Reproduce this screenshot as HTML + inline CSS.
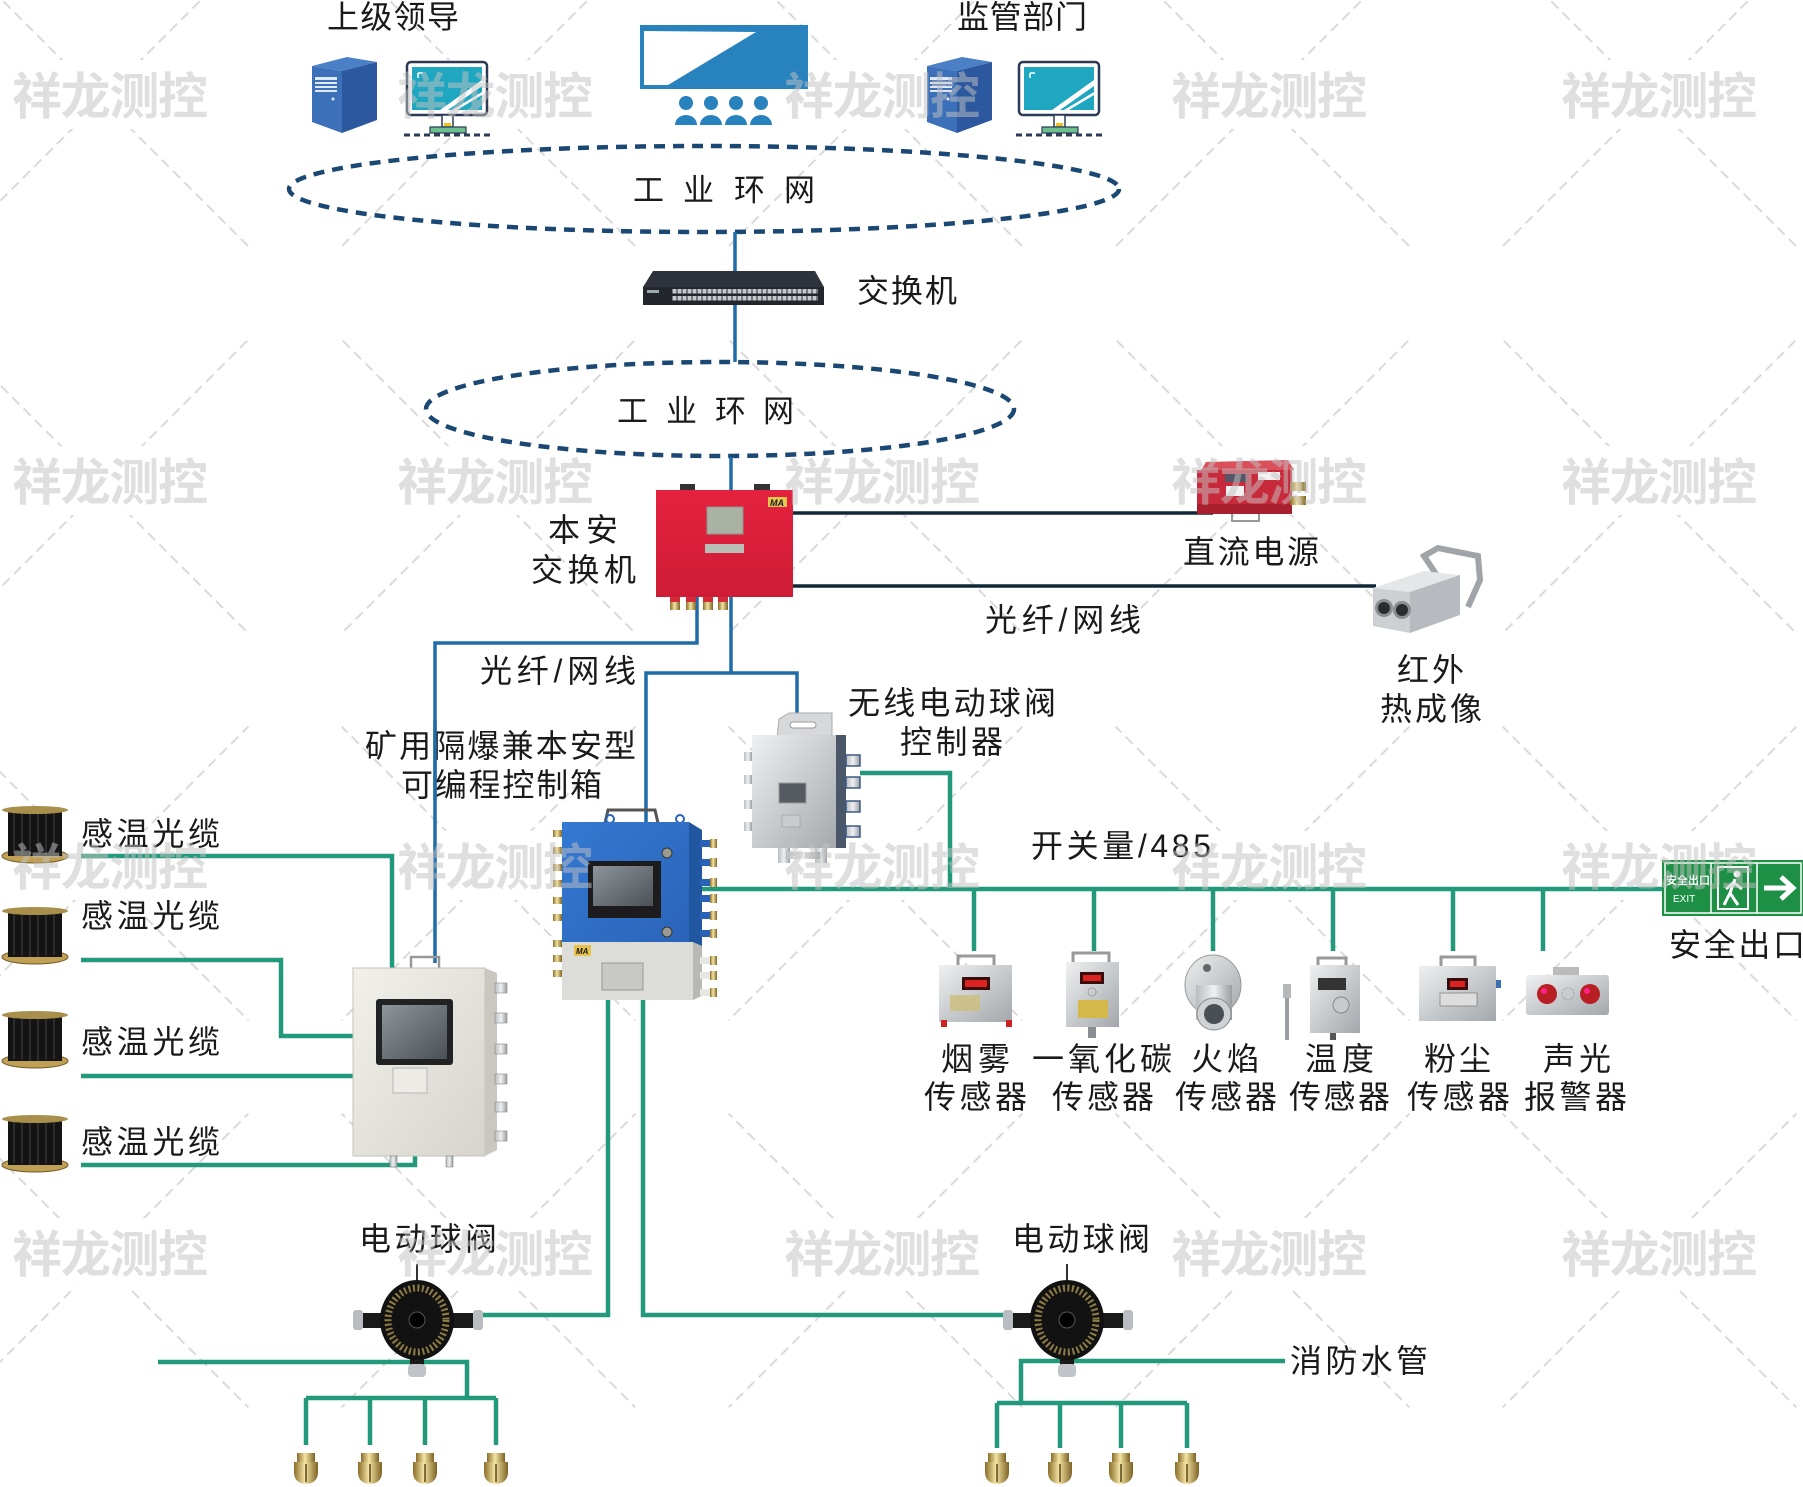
<!DOCTYPE html>
<html><head><meta charset="utf-8">
<style>
html,body{margin:0;padding:0;background:#fff;}
svg{display:block;}
text{font-family:"Liberation Sans","Noto Sans CJK SC",sans-serif;fill:#1a1a1a;}
.lb{font-size:32px;}
.wm{font-size:50px;fill:#c2c2c2;opacity:.72;font-weight:bold;}
</style></head><body>
<svg width="1803" height="1487" viewBox="0 0 1803 1487" xmlns="http://www.w3.org/2000/svg">
<defs>
<linearGradient id="steel" x1="0" y1="0" x2="1" y2="1"><stop offset="0" stop-color="#eef0f1"/><stop offset="1" stop-color="#a3a7ab"/></linearGradient>
<linearGradient id="steelH" x1="0" y1="0" x2="1" y2="0"><stop offset="0" stop-color="#b9bdc0"/><stop offset=".5" stop-color="#eef0f1"/><stop offset="1" stop-color="#9a9ea2"/></linearGradient>
<linearGradient id="brass" x1="0" y1="0" x2="1" y2="0"><stop offset="0" stop-color="#8a6d28"/><stop offset=".45" stop-color="#f4e4a4"/><stop offset="1" stop-color="#7d6324"/></linearGradient>
<linearGradient id="redg" x1="0" y1="0" x2="0" y2="1"><stop offset="0" stop-color="#e4223f"/><stop offset="1" stop-color="#cf1c36"/></linearGradient>
<linearGradient id="blueg" x1="0" y1="0" x2="1" y2="1"><stop offset="0" stop-color="#3479d2"/><stop offset="1" stop-color="#2a63b8"/></linearGradient>
<linearGradient id="scr" x1="0" y1="0" x2="1" y2="1"><stop offset="0" stop-color="#8d949a"/><stop offset="1" stop-color="#4b5157"/></linearGradient>
<linearGradient id="greyb" x1="0" y1="0" x2="1" y2="1"><stop offset="0" stop-color="#f1f0ea"/><stop offset="1" stop-color="#d6d4cc"/></linearGradient>
<pattern id="ports" width="5" height="14" patternUnits="userSpaceOnUse" x="672" y="289"><rect x="0.5" y="0" width="4" height="4.5" fill="#c5cacd"/><rect x="0.5" y="7" width="4" height="4.5" fill="#c5cacd"/></pattern>
<mask id="wmMask">
<rect width="1803" height="1487" fill="#fff"/>
<g fill="#000">
<rect x="0" y="60" width="218" height="69"/><rect x="385" y="60" width="218" height="69"/><rect x="772" y="60" width="218" height="69"/><rect x="1159" y="60" width="218" height="69"/><rect x="1549" y="60" width="218" height="69"/>
<rect x="0" y="446" width="218" height="69"/><rect x="385" y="446" width="218" height="69"/><rect x="772" y="446" width="218" height="69"/><rect x="1159" y="446" width="218" height="69"/><rect x="1549" y="446" width="218" height="69"/>
<rect x="0" y="831" width="218" height="69"/><rect x="385" y="831" width="218" height="69"/><rect x="772" y="831" width="218" height="69"/><rect x="1159" y="831" width="218" height="69"/><rect x="1549" y="831" width="218" height="69"/>
<rect x="0" y="1218" width="218" height="69"/><rect x="385" y="1218" width="218" height="69"/><rect x="772" y="1218" width="218" height="69"/><rect x="1159" y="1218" width="218" height="69"/><rect x="1549" y="1218" width="218" height="69"/>
<circle cx="295" cy="-94" r="66"/><circle cx="682" cy="-94" r="66"/><circle cx="1069" cy="-94" r="66"/><circle cx="1456" cy="-94" r="66"/><circle cx="1843" cy="-94" r="66"/>
<circle cx="295" cy="293" r="66"/><circle cx="682" cy="293" r="66"/><circle cx="1069" cy="293" r="66"/><circle cx="1456" cy="293" r="66"/><circle cx="1843" cy="293" r="66"/>
<circle cx="295" cy="680" r="66"/><circle cx="682" cy="680" r="66"/><circle cx="1069" cy="680" r="66"/><circle cx="1456" cy="680" r="66"/><circle cx="1843" cy="680" r="66"/>
<circle cx="295" cy="1067" r="66"/><circle cx="682" cy="1067" r="66"/><circle cx="1069" cy="1067" r="66"/><circle cx="1456" cy="1067" r="66"/><circle cx="1843" cy="1067" r="66"/>
<circle cx="295" cy="1454" r="66"/><circle cx="682" cy="1454" r="66"/><circle cx="1069" cy="1454" r="66"/><circle cx="1456" cy="1454" r="66"/><circle cx="1843" cy="1454" r="66"/>
<circle cx="-92" cy="293" r="66"/><circle cx="-92" cy="680" r="66"/><circle cx="-92" cy="1067" r="66"/><circle cx="-92" cy="1454" r="66"/>
</g>
</mask>
</defs>
<rect width="1803" height="1487" fill="#fff"/>

<!-- background diagonal lattice -->
<g mask="url(#wmMask)" stroke="#dadada" stroke-width="2" stroke-dasharray="10 6" fill="none">
<path d="M-1169,-10 L341,1500 M-782,-10 L728,1500 M-395,-10 L1115,1500 M-8,-10 L1502,1500 M379,-10 L1889,1500 M766,-10 L2276,1500 M1153,-10 L2663,1500 M1540,-10 L3050,1500"/>
<path d="M211,-10 L-1299,1500 M598,-10 L-912,1500 M985,-10 L-525,1500 M1372,-10 L-138,1500 M1759,-10 L249,1500 M2146,-10 L636,1500 M2533,-10 L1023,1500 M2920,-10 L1410,1500"/>
</g>

<!-- ===== top icons ===== -->
<text class="lb" x="327" y="28" textLength="132" lengthAdjust="spacing">上级领导</text>
<text class="lb" x="957" y="28" textLength="130" lengthAdjust="spacing">监管部门</text>

<g id="srv1">
<polygon points="312,66 347,57 377,62 342,71" fill="#4c80c6"/>
<polygon points="312,66 342,71 342,133 312,122" fill="#3c70b9"/>
<polygon points="342,71 377,62 377,120 342,133" fill="#2b589f"/>
<rect x="315" y="77" width="22" height="3" fill="#dfe8f4"/><rect x="315" y="82" width="22" height="2" fill="#dfe8f4"/><rect x="315" y="86" width="22" height="2" fill="#dfe8f4"/><rect x="315" y="90" width="22" height="2" fill="#dfe8f4"/>
<circle cx="333" cy="99" r="1.5" fill="#dfe8f4"/>
</g>
<g id="mon1">
<rect x="407" y="62" width="80" height="53" rx="4" fill="#fff" stroke="#2b3a55" stroke-width="2.5"/>
<rect x="412" y="67" width="70" height="43" fill="#1fa6c1"/>
<path d="M440,110 L482,80 L482,86 L448,110Z M452,110 L482,92 L482,95 L457,110Z" fill="#fff"/>
<path d="M418,73 h5 M418,73 v5" stroke="#fff" stroke-width="1.5"/>
<rect x="442" y="115" width="11" height="12" fill="#fff" stroke="#2b3a55" stroke-width="1.5"/>
<rect x="444" y="123" width="7" height="3" fill="#f2c21b"/>
<rect x="430" y="127" width="36" height="6" fill="#6cc08d" stroke="#2b3a55" stroke-width="1.2"/>
<path d="M404,135 H492" stroke="#2b3a55" stroke-width="3" stroke-dasharray="6 4"/>
</g>
<use href="#srv1" x="615"/>
<use href="#mon1" x="612"/>

<!-- big screen -->
<rect x="640" y="25" width="168" height="64" fill="#2882be"/>
<polygon points="644,31 756,32 668,85 644,85" fill="#fff"/>
<g fill="#2882be">
<circle cx="686" cy="103" r="7"/><circle cx="711" cy="103" r="7"/><circle cx="736" cy="103" r="7"/><circle cx="761" cy="103" r="7"/>
<path d="M675,125 a11,10 0 0 1 22,0Z M700,125 a11,10 0 0 1 22,0Z M725,125 a11,10 0 0 1 22,0Z M750,125 a11,10 0 0 1 22,0Z"/>
</g>

<!-- ellipse 1 -->
<ellipse cx="704" cy="189" rx="415" ry="43" fill="none" stroke="#1b4872" stroke-width="4.5" stroke-dasharray="11 8"/>
<g style="font-size:31px"><text x="633" y="201">工</text><text x="683" y="201">业</text><text x="734" y="201">环</text><text x="784" y="201">网</text></g>

<!-- switch -->
<path d="M735,232 V271 M735,305 V362" stroke="#1f6ca8" stroke-width="3.5"/>
<polygon points="653,271 815,271 824,287 643,287" fill="#2e333b"/>
<rect x="643" y="287" width="181" height="18" fill="#23272d"/>
<rect x="672" y="289" width="146" height="12" fill="url(#ports)"/>
<rect x="647" y="290" width="12" height="3" fill="#9aa"/>
<text class="lb" x="857" y="302" textLength="100" lengthAdjust="spacing">交换机</text>

<!-- ellipse 2 -->
<ellipse cx="720" cy="409" rx="294" ry="47" fill="none" stroke="#1b4872" stroke-width="4.5" stroke-dasharray="11 8"/>
<g style="font-size:31px"><text x="617" y="422">工</text><text x="666" y="422">业</text><text x="715" y="422">环</text><text x="763" y="422">网</text></g>

<!-- blue connectors -->
<g stroke="#1f6ca8" stroke-width="3.5" fill="none">
<path d="M731,457 V490"/>
<polyline points="697,597 697,643 435,643 435,963"/>
<path d="M731,597 V673 M646,822 V673 H797 V716"/>
</g>
<!-- dark lines -->
<path d="M793,513 H1213 M793,586 H1376" stroke="#0f2837" stroke-width="3.5"/>

<!-- red intrinsically safe switch -->
<rect x="680" y="484" width="15" height="7" fill="#333"/><rect x="754" y="484" width="16" height="7" fill="#333"/>
<rect x="656" y="490" width="137" height="107" fill="url(#redg)"/>
<rect x="707" y="507" width="36" height="27" fill="#aab2a4" stroke="#8d948a"/>
<rect x="705" y="544" width="39" height="9" fill="#b7bfb6"/>
<rect x="768" y="497" width="19" height="10" fill="#e7c650"/>
<text x="770" y="506" style="font-size:9px;font-weight:bold;font-style:italic">MA</text>
<g fill="url(#brass)"><rect x="670" y="597" width="10" height="13"/><rect x="686" y="597" width="10" height="13"/><rect x="703" y="597" width="10" height="13"/><rect x="718" y="597" width="10" height="13"/></g>
<g fill="#d22b3a"><rect x="670" y="597" width="10" height="5"/><rect x="686" y="597" width="10" height="5"/><rect x="703" y="597" width="10" height="5"/><rect x="718" y="597" width="10" height="5"/></g>
<text class="lb" x="548" y="541" textLength="70" lengthAdjust="spacing">本安</text>
<text class="lb" x="531" y="581" textLength="105" lengthAdjust="spacing">交换机</text>

<!-- DC power -->
<polygon points="1206,462 1288,460 1294,470 1200,472" fill="#d9505b"/>
<rect x="1197" y="470" width="95" height="44" fill="#c92a3b"/>
<rect x="1197" y="504" width="95" height="10" fill="#a81f2e"/>
<rect x="1225" y="474" width="22" height="8" fill="#556"/><rect x="1258" y="472" width="22" height="8" fill="#f2f2f2"/><rect x="1226" y="486" width="18" height="10" fill="#f2f2f2"/>
<g fill="url(#brass)"><rect x="1290" y="482" width="16" height="9"/><rect x="1290" y="496" width="16" height="9"/></g>
<path d="M1232,514 v7 h27 v-7" stroke="#999" stroke-width="2" fill="none"/>
<text class="lb" x="1183" y="563" textLength="136" lengthAdjust="spacing">直流电源</text>

<!-- infrared camera -->
<path d="M1438,577 L1424,556 L1438,548 L1478,556 L1480,580 L1468,607" stroke="#a0a4a8" stroke-width="6" fill="none"/>
<polygon points="1373,588 1410,592 1460,575 1424,571" fill="#e4e6e8"/>
<polygon points="1410,592 1460,575 1460,615 1410,633" fill="#b7bbbf"/>
<polygon points="1373,588 1410,592 1410,633 1373,626" fill="#cdd0d3"/>
<circle cx="1384" cy="608" r="9" fill="#8a8e92"/><circle cx="1384" cy="608" r="6" fill="#2a2d30"/>
<circle cx="1402" cy="610" r="9" fill="#8a8e92"/><circle cx="1402" cy="610" r="6" fill="#2a2d30"/>
<text class="lb" x="985" y="631" textLength="156" lengthAdjust="spacing">光纤/网线</text>
<text class="lb" x="1397" y="681" textLength="67" lengthAdjust="spacing">红外</text>
<text class="lb" x="1380" y="720" textLength="102" lengthAdjust="spacing">热成像</text>

<text class="lb" x="480" y="682" textLength="156" lengthAdjust="spacing">光纤/网线</text>
<text class="lb" x="365" y="757" textLength="271" lengthAdjust="spacing">矿用隔爆兼本安型</text>
<text class="lb" x="401" y="796" textLength="201" lengthAdjust="spacing">可编程控制箱</text>
<path d="M435,720 V800" stroke="#1f6ca8" stroke-width="3.5"/>

<!-- wireless controller -->
<polygon points="777,738 779,719 789,713 832,713 832,738" fill="#d6d8da" stroke="#aaa"/>
<rect x="790" y="722" width="26" height="6" rx="3" fill="#fff" stroke="#999"/>
<rect x="752" y="735" width="88" height="113" fill="url(#steel)"/>
<rect x="836" y="735" width="10" height="113" fill="#4a5769"/>
<g fill="url(#steelH)"><rect x="744" y="752" width="8" height="9"/><rect x="744" y="775" width="8" height="9"/><rect x="744" y="800" width="8" height="9"/><rect x="744" y="822" width="8" height="9"/></g>
<g fill="url(#steelH)" stroke="#3c5a86" stroke-width="1.5"><rect x="846" y="755" width="14" height="11"/><rect x="846" y="777" width="14" height="11"/><rect x="846" y="801" width="14" height="11"/><rect x="846" y="826" width="14" height="11"/></g>
<rect x="779" y="783" width="27" height="20" fill="#555b61" stroke="#999"/>
<rect x="782" y="815" width="18" height="12" fill="#c9cbcd" stroke="#999" stroke-width=".6"/>
<rect x="778" y="848" width="12" height="15" fill="url(#steelH)"/><rect x="815" y="848" width="12" height="15" fill="url(#steelH)"/><rect x="786" y="852" width="34" height="7" fill="url(#steelH)"/>
<text class="lb" x="848" y="714" textLength="208" lengthAdjust="spacing">无线电动球阀</text>
<text class="lb" x="900" y="753" textLength="103" lengthAdjust="spacing">控制器</text>

<!-- green signal lines -->
<g stroke="#22997a" stroke-width="4.5" fill="none">
<path d="M860,773 H950 V889"/>
<path d="M700,889 H1664"/>
<path d="M974,889 V951 M1094,889 V951 M1213,889 V951 M1333,889 V951 M1453,889 V951 M1543,889 V951"/>
<polyline points="81,856 392,856 392,968"/>
<polyline points="81,960 281,960 281,1036 353,1036"/>
<path d="M81,1076 H353"/>
<polyline points="81,1165 415,1165 415,1147"/>
<polyline points="608,1000 608,1315 480,1315"/>
<polyline points="643,1000 643,1315 1006,1315"/>
<path d="M158,1362 H467 V1398 M306,1398 H496 M306,1398 V1445 M370,1398 V1445 M425,1398 V1445 M496,1398 V1445"/>
<path d="M1285,1361 H1021 V1403 M997,1403 H1187 M997,1403 V1448 M1060,1403 V1448 M1121,1403 V1448 M1187,1403 V1448"/>
</g>
<text class="lb" x="1031" y="857" textLength="180" lengthAdjust="spacing">开关量/485</text>

<!-- blue PLC box -->
<path d="M605,823 L608,810 H655 L658,823" stroke="#555" stroke-width="3" fill="none"/>
<circle cx="610" cy="819" r="4" fill="none" stroke="#2a63b8" stroke-width="2"/><circle cx="680" cy="819" r="4" fill="none" stroke="#2a63b8" stroke-width="2"/>
<rect x="562" y="822" width="127" height="131" fill="url(#blueg)"/>
<polygon points="689,822 702,830 702,948 689,953" fill="#2156a0"/>
<rect x="562" y="942" width="131" height="58" fill="#dcdcd8"/>
<polygon points="693,942 702,946 702,996 693,1000" fill="#b9b9b4"/>
<rect x="588" y="861" width="73" height="57" fill="#1c1c1e"/>
<rect x="593" y="866" width="60" height="40" fill="url(#scr)"/>
<circle cx="667" cy="853" r="5" fill="#9a9a90" stroke="#333"/><circle cx="667" cy="932" r="5" fill="#9a9a90" stroke="#333"/>
<rect x="574" y="945" width="17" height="11" fill="#e6c24a"/><text x="576" y="954" style="font-size:8px;font-weight:bold;font-style:italic">MA</text>
<rect x="602" y="963" width="41" height="27" fill="#c8c8c4" stroke="#999"/>
<g fill="url(#brass)"><rect x="553" y="830" width="9" height="7"/><rect x="553" y="847" width="9" height="7"/><rect x="553" y="864" width="9" height="7"/><rect x="553" y="880" width="9" height="7"/><rect x="553" y="897" width="9" height="7"/><rect x="553" y="914" width="9" height="7"/><rect x="553" y="940" width="9" height="7"/><rect x="553" y="955" width="9" height="7"/><rect x="553" y="970" width="9" height="7"/>
<rect x="710" y="839" width="7" height="9"/><rect x="710" y="858" width="7" height="9"/><rect x="710" y="878" width="7" height="9"/><rect x="710" y="894" width="7" height="9"/><rect x="710" y="911" width="7" height="9"/><rect x="710" y="929" width="7" height="9"/><rect x="710" y="956" width="7" height="9"/><rect x="710" y="971" width="7" height="9"/><rect x="710" y="988" width="7" height="9"/></g>
<g fill="#2a62b8"><rect x="700" y="840" width="10" height="7"/><rect x="700" y="859" width="10" height="7"/><rect x="700" y="879" width="10" height="7"/><rect x="700" y="895" width="10" height="7"/><rect x="700" y="912" width="10" height="7"/><rect x="700" y="930" width="10" height="7"/></g>
<g fill="#e6e6e2"><rect x="700" y="957" width="10" height="7"/><rect x="700" y="972" width="10" height="7"/><rect x="700" y="989" width="10" height="7"/></g>

<!-- grey PLC box -->
<path d="M411,968 V957 H439 V968" stroke="#999" stroke-width="2.5" fill="none"/>
<rect x="353" y="968" width="132" height="188" fill="url(#greyb)" stroke="#c5c3bb"/>
<polygon points="485,968 497,973 497,1150 485,1156" fill="#c9c7bf"/>
<rect x="376" y="999" width="77" height="66" rx="3" fill="#202224"/>
<rect x="382" y="1005" width="65" height="54" fill="url(#scr)"/>
<rect x="393" y="1068" width="34" height="25" fill="#ecebe6" stroke="#aaa" stroke-width=".8"/>
<g fill="url(#steelH)" stroke="#888" stroke-width=".6"><rect x="495" y="983" width="12" height="10"/><rect x="495" y="1013" width="12" height="10"/><rect x="495" y="1044" width="12" height="10"/><rect x="495" y="1074" width="12" height="10"/><rect x="495" y="1102" width="12" height="10"/><rect x="495" y="1131" width="12" height="10"/>
<rect x="390" y="1156" width="7" height="11"/><rect x="446" y="1156" width="7" height="11"/></g>

<!-- cable reels -->
<g id="reel">
<ellipse cx="35" cy="856" rx="33" ry="7" fill="#bfa055" stroke="#6e5a26"/>
<rect x="8" y="810" width="54" height="46" fill="#141414"/>
<path d="M14,812 V854 M22,811 V855 M30,811 V856 M38,811 V856 M46,811 V855 M54,812 V854" stroke="#333" stroke-width="1.5"/>
<ellipse cx="35" cy="810" rx="33" ry="4" fill="#a98f4c"/>
</g>
<use href="#reel" y="101"/><use href="#reel" y="205"/><use href="#reel" y="309"/>
<text class="lb" x="81" y="845" textLength="139" lengthAdjust="spacing">感温光缆</text>
<text class="lb" x="81" y="927" textLength="139" lengthAdjust="spacing">感温光缆</text>
<text class="lb" x="81" y="1053" textLength="139" lengthAdjust="spacing">感温光缆</text>
<text class="lb" x="81" y="1153" textLength="139" lengthAdjust="spacing">感温光缆</text>

<!-- exit sign -->
<rect x="1662" y="860" width="141" height="56" fill="#1e9046"/>
<rect x="1665" y="863" width="136" height="50" fill="none" stroke="#fff" stroke-width="1.5"/>
<path d="M1711,863 V913 M1757,863 V913" stroke="#fff" stroke-width="1.5"/>
<text x="1666" y="884" style="font-size:11px;fill:#fff;font-weight:bold">安全出口</text>
<text x="1673" y="902" style="font-size:10px;fill:#fff">EXIT</text>
<rect x="1718" y="867" width="30" height="42" fill="none" stroke="#fff" stroke-width="2"/>
<circle cx="1737" cy="874" r="3.5" fill="#fff"/>
<path d="M1735,879 L1730,893 L1724,905 M1730,893 L1738,905 M1733,883 L1726,889 M1734,883 L1742,889" stroke="#fff" stroke-width="3" fill="none"/>
<path d="M1764,888 H1792 M1781,877 L1793,888 L1781,899" stroke="#fff" stroke-width="5" fill="none"/>
<text class="lb" x="1669" y="956" textLength="136" lengthAdjust="spacing">安全出口</text>

<!-- sensors -->
<path d="M958,966 V956 H994 V966" stroke="#999" stroke-width="3" fill="none"/>
<rect x="939" y="965" width="73" height="57" fill="url(#steel)"/>
<rect x="962" y="977" width="28" height="13" fill="#3a0d0d"/><rect x="965" y="980" width="22" height="7" fill="#d22"/>
<rect x="950" y="995" width="30" height="16" fill="#cdbd7a" opacity=".8"/>
<rect x="941" y="1020" width="6" height="7" fill="#c22"/><rect x="1006" y="1020" width="6" height="7" fill="#c22"/>
<path d="M1073,963 V953 H1109 V963" stroke="#999" stroke-width="3" fill="none"/>
<rect x="1066" y="962" width="53" height="65" fill="url(#steel)"/>
<rect x="1080" y="972" width="24" height="12" fill="#3a0d0d"/><rect x="1083" y="975" width="18" height="6" fill="#d22"/>
<circle cx="1092" cy="992" r="4" fill="none" stroke="#777" stroke-dasharray="1 1"/>
<rect x="1078" y="1000" width="30" height="18" fill="#d4b84a"/>
<rect x="1088" y="1027" width="8" height="11" fill="#8a8e92"/>
<ellipse cx="1213" cy="985" rx="28" ry="30" fill="url(#steel)" stroke="#999"/>
<rect x="1196" y="985" width="36" height="35" fill="url(#steelH)"/>
<ellipse cx="1214" cy="1014" rx="17" ry="16" fill="#cfd2d4" stroke="#888"/>
<circle cx="1214" cy="1014" r="10" fill="#4a4f54"/>
<circle cx="1207" cy="968" r="4" fill="#666"/>
<rect x="1285" y="984" width="4" height="56" fill="#9a9ea2"/><rect x="1283" y="984" width="8" height="14" fill="#b5b8bb"/>
<path d="M1318,966 V958 H1346 V966" stroke="#999" stroke-width="3" fill="none"/>
<rect x="1310" y="965" width="50" height="68" fill="url(#steel)"/>
<rect x="1318" y="978" width="28" height="12" fill="#333"/>
<circle cx="1341" cy="1005" r="8" fill="#c8cacc" stroke="#888"/>
<rect x="1330" y="1033" width="6" height="7" fill="#555"/>
<path d="M1441,967 V957 H1475 V967" stroke="#999" stroke-width="3" fill="none"/>
<rect x="1419" y="966" width="77" height="55" fill="url(#steel)"/>
<rect x="1447" y="978" width="21" height="12" fill="#3a0d0d"/><rect x="1450" y="981" width="15" height="6" fill="#d22"/>
<rect x="1440" y="993" width="37" height="13" fill="#ddd" stroke="#777" stroke-width=".7"/>
<rect x="1496" y="980" width="5" height="8" fill="#3c6fb5"/>
<rect x="1553" y="967" width="26" height="8" fill="#bbb"/>
<rect x="1526" y="975" width="83" height="40" rx="3" fill="url(#steel)"/>
<circle cx="1547" cy="994" r="10" fill="#b81e24"/><circle cx="1544" cy="991" r="3" fill="#f28"/>
<circle cx="1590" cy="994" r="10" fill="#b81e24"/><circle cx="1587" cy="991" r="3" fill="#f28"/>
<circle cx="1568" cy="994" r="6" fill="none" stroke="#888" stroke-dasharray="1 1.5"/>

<g class="lb">
<text class="lb" x="941" y="1070" textLength="69" lengthAdjust="spacing">烟雾</text>
<text class="lb" x="1032" y="1070" textLength="140" lengthAdjust="spacing">一氧化碳</text>
<text class="lb" x="1191" y="1070" textLength="68" lengthAdjust="spacing">火焰</text>
<text class="lb" x="1305" y="1070" textLength="69" lengthAdjust="spacing">温度</text>
<text class="lb" x="1424" y="1070" textLength="67" lengthAdjust="spacing">粉尘</text>
<text class="lb" x="1543" y="1070" textLength="68" lengthAdjust="spacing">声光</text>
<text class="lb" x="924" y="1108" textLength="103" lengthAdjust="spacing">传感器</text>
<text class="lb" x="1052" y="1108" textLength="102" lengthAdjust="spacing">传感器</text>
<text class="lb" x="1175" y="1108" textLength="102" lengthAdjust="spacing">传感器</text>
<text class="lb" x="1289" y="1108" textLength="101" lengthAdjust="spacing">传感器</text>
<text class="lb" x="1407" y="1108" textLength="103" lengthAdjust="spacing">传感器</text>
<text class="lb" x="1524" y="1108" textLength="103" lengthAdjust="spacing">报警器</text>
</g>

<!-- valves -->
<g id="valve" transform="translate(417,1320)">
<line x1="0" y1="-56" x2="0" y2="-36" stroke="#333" stroke-width="2"/>
<rect x="-60" y="-7" width="28" height="15" fill="#1a1a1a"/><rect x="-64" y="-10" width="10" height="20" rx="3" fill="#b9bdc1"/>
<rect x="32" y="-7" width="28" height="15" fill="#1a1a1a"/><rect x="56" y="-10" width="10" height="20" rx="3" fill="#b9bdc1"/>
<rect x="-7" y="30" width="14" height="20" fill="#1a1a1a"/><rect x="-9" y="44" width="18" height="13" rx="4" fill="#c0c4c8"/>
<ellipse rx="37" ry="40" fill="#121212"/>
<ellipse rx="29" ry="32" fill="none" stroke="#a38f4e" stroke-width="7" stroke-dasharray="2 2.5" opacity=".85"/>
<circle r="8" fill="#000" stroke="#555"/>
</g>
<use href="#valve" x="650"/>
<text class="lb" x="359" y="1250" textLength="138" lengthAdjust="spacing">电动球阀</text>
<text class="lb" x="1012" y="1250" textLength="138" lengthAdjust="spacing">电动球阀</text>
<text class="lb" x="1290" y="1372" textLength="138" lengthAdjust="spacing">消防水管</text>

<!-- nozzles -->
<g id="noz" transform="translate(306,1453)">
<rect x="-9" y="0" width="18" height="9" fill="url(#brass)"/>
<path d="M-12,9 H12 V19 Q12,30 0,31 Q-12,30 -12,19Z" fill="url(#brass)"/>
<line x1="0" y1="11" x2="0" y2="29" stroke="#5a4515" stroke-width="1.5"/>
</g>
<use href="#noz" x="64"/><use href="#noz" x="119"/><use href="#noz" x="190"/>
<use href="#noz" x="691"/><use href="#noz" x="754"/><use href="#noz" x="815"/><use href="#noz" x="881"/>

<!-- watermarks -->
<g class="wm">
<text class="wm" x="12" y="114" textLength="196" lengthAdjust="spacing">祥龙测控</text>
<text class="wm" x="397" y="114" textLength="196" lengthAdjust="spacing">祥龙测控</text>
<text class="wm" x="784" y="114" textLength="196" lengthAdjust="spacing">祥龙测控</text>
<text class="wm" x="1171" y="114" textLength="196" lengthAdjust="spacing">祥龙测控</text>
<text class="wm" x="1561" y="114" textLength="196" lengthAdjust="spacing">祥龙测控</text>
<text class="wm" x="12" y="500" textLength="196" lengthAdjust="spacing">祥龙测控</text>
<text class="wm" x="397" y="500" textLength="196" lengthAdjust="spacing">祥龙测控</text>
<text class="wm" x="784" y="500" textLength="196" lengthAdjust="spacing">祥龙测控</text>
<text class="wm" x="1171" y="500" textLength="196" lengthAdjust="spacing">祥龙测控</text>
<text class="wm" x="1561" y="500" textLength="196" lengthAdjust="spacing">祥龙测控</text>
<text class="wm" x="12" y="885" textLength="196" lengthAdjust="spacing">祥龙测控</text>
<text class="wm" x="397" y="885" textLength="196" lengthAdjust="spacing">祥龙测控</text>
<text class="wm" x="784" y="885" textLength="196" lengthAdjust="spacing">祥龙测控</text>
<text class="wm" x="1171" y="885" textLength="196" lengthAdjust="spacing">祥龙测控</text>
<text class="wm" x="1561" y="885" textLength="196" lengthAdjust="spacing">祥龙测控</text>
<text class="wm" x="12" y="1272" textLength="196" lengthAdjust="spacing">祥龙测控</text>
<text class="wm" x="397" y="1272" textLength="196" lengthAdjust="spacing">祥龙测控</text>
<text class="wm" x="784" y="1272" textLength="196" lengthAdjust="spacing">祥龙测控</text>
<text class="wm" x="1171" y="1272" textLength="196" lengthAdjust="spacing">祥龙测控</text>
<text class="wm" x="1561" y="1272" textLength="196" lengthAdjust="spacing">祥龙测控</text>
</g>
</svg>
</body></html>
